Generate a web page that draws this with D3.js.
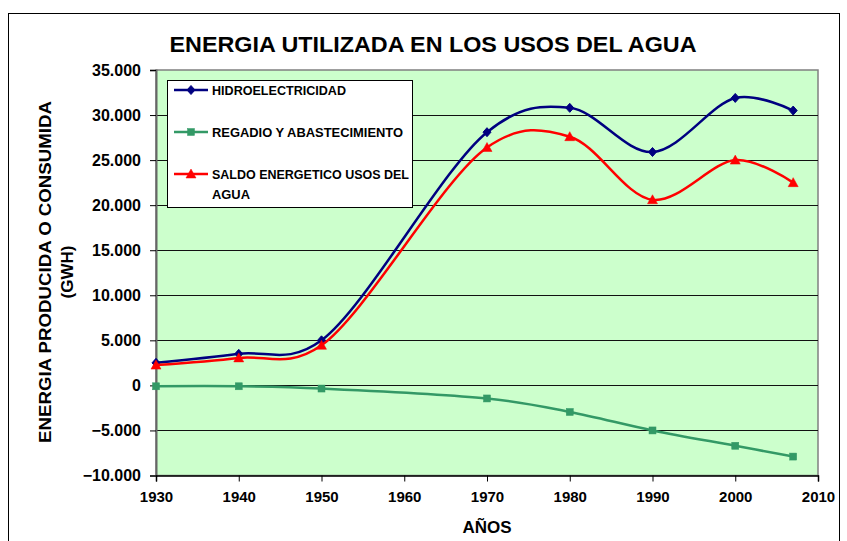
<!DOCTYPE html>
<html>
<head>
<meta charset="utf-8">
<script src="https://cdn.jsdelivr.net/npm/d3@7"></script>
<style>
  body { margin: 0; background: #fff; }
  text { font-family: "Liberation Sans", Arial, sans-serif; font-weight: bold; }
</style>
</head>
<body>
<div id="chart"></div>
<script>
// Values (GWh)
var years = [1930, 1940, 1950, 1970, 1980, 1990, 2000, 2007];
var hidro = [2500, 3500, 5000, 28100, 30800, 25900, 31900, 30500];
var regadio = [-100, -100, -350, -1450, -2950, -5000, -6700, -7900];
var saldo = [2250, 3050, 4450, 26400, 27600, 20600, 25000, 22500];
var yTicks = [35000, 30000, 25000, 20000, 15000, 10000, 5000, 0, -5000, -10000];
var xTicks = [1930, 1940, 1950, 1960, 1970, 1980, 1990, 2000, 2010];

var series = [
  { name: ["HIDROELECTRICIDAD"], len: [134], values: hidro, color: "#000080", marker: "diamond" },
  { name: ["REGADIO Y ABASTECIMIENTO"], len: [191], values: regadio, color: "#339966", marker: "square" },
  { name: ["SALDO ENERGETICO USOS DEL", "AGUA"], len: [197, 38], values: saldo, color: "#ff0000", marker: "triangle" }
];

var width = 847, height = 541;
var svg = d3.select("#chart").append("svg")
  .attr("width", width)
  .attr("height", height);

// outer chart frame
svg.append("rect")
  .attr("x", 8.5).attr("y", 13.5)
  .attr("width", 831).attr("height", 540)
  .attr("fill", "#fff").attr("stroke", "#000");

var x = d3.scaleLinear().domain([1930, 2010]).range([156, 818]);
var y = d3.scaleLinear().domain([-10000, 35000]).range([475.5, 70]);

// plot area
svg.append("rect")
  .attr("x", x(1930)).attr("y", y(35000))
  .attr("width", x(2010) - x(1930)).attr("height", y(-10000) - y(35000))
  .attr("fill", "#ccffcc").attr("stroke", "#808080").attr("stroke-width", 1.5);

// horizontal gridlines
svg.append("g").selectAll("line")
  .data(yTicks.filter(function (d) { return d > -10000 && d < 35000; }))
  .enter().append("line")
  .attr("x1", x(1930)).attr("x2", x(2010))
  .attr("y1", function (d) { return Math.round(y(d)) + 0.5; })
  .attr("y2", function (d) { return Math.round(y(d)) + 0.5; })
  .attr("stroke", "#111").attr("stroke-width", 1);

// y axis
var fmt = function (d) { return d === 0 ? "0" : d3.format(",")(d).replace(/,/g, "."); };
var yAxis = svg.append("g")
  .attr("transform", "translate(" + x(1930) + ",0)")
  .call(d3.axisLeft(y).tickValues(yTicks).tickSize(6).tickPadding(9).tickFormat(fmt));
yAxis.select(".domain").attr("stroke", "#666").attr("stroke-width", 2);
yAxis.selectAll(".tick line").attr("stroke", "#000");
yAxis.selectAll("text").attr("font-size", 16).attr("fill", "#000")
  .style("font-family", "'Liberation Sans', Arial, sans-serif").style("font-weight", "bold");

// x axis
var xAxis = svg.append("g")
  .attr("transform", "translate(0," + y(-10000) + ")")
  .call(d3.axisBottom(x).tickValues(xTicks).tickSize(6).tickPadding(10).tickFormat(d3.format("d")));
xAxis.select(".domain").attr("stroke", "#000").attr("stroke-width", 1.5);
xAxis.selectAll(".tick line").attr("stroke", "#000");
xAxis.selectAll("text").attr("font-size", 15).attr("fill", "#000")
  .style("font-family", "'Liberation Sans', Arial, sans-serif").style("font-weight", "bold");

// lines (smoothed like the spreadsheet)
var line = d3.line()
  .x(function (d) { return x(d[0]); })
  .y(function (d) { return y(d[1]); })
  .curve(d3.curveCatmullRom.alpha(0.25));

function drawMarker(g, type, color, cx, cy) {
  if (type === "diamond") {
    g.append("path")
      .attr("d", "M" + cx + "," + (cy - 4.5) + "L" + (cx + 4) + "," + cy + "L" + cx + "," + (cy + 4.5) + "L" + (cx - 4) + "," + cy + "Z")
      .attr("fill", color).attr("stroke", color);
  } else if (type === "square") {
    g.append("rect")
      .attr("x", cx - 3.5).attr("y", cy - 3.5).attr("width", 7).attr("height", 7)
      .attr("fill", color).attr("stroke", color).attr("stroke-width", 0.5);
  } else {
    g.append("path")
      .attr("d", "M" + cx + "," + (cy - 5) + "L" + (cx + 5) + "," + (cy + 4) + "L" + (cx - 5) + "," + (cy + 4) + "Z")
      .attr("fill", color).attr("stroke", color).attr("stroke-width", 0.5);
  }
}

series.forEach(function (s) {
  var pts = years.map(function (yr, i) { return [yr, s.values[i]]; });
  svg.append("path")
    .attr("d", line(pts))
    .attr("fill", "none")
    .attr("stroke", s.color)
    .attr("stroke-width", 2.5);
  var mg = svg.append("g");
  pts.forEach(function (p) { drawMarker(mg, s.marker, s.color, x(p[0]), y(p[1])); });
});

// legend
var legend = svg.append("g");
legend.append("rect")
  .attr("x", 167.5).attr("y", 80.5).attr("width", 245).attr("height", 127)
  .attr("fill", "#fff").attr("stroke", "#000");
var legendY = [90, 132, 174];
series.forEach(function (s, i) {
  var ly = legendY[i];
  legend.append("line")
    .attr("x1", 174).attr("x2", 208).attr("y1", ly).attr("y2", ly)
    .attr("stroke", s.color).attr("stroke-width", 2.5);
  drawMarker(legend, s.marker, s.color, 191, ly);
  s.name.forEach(function (t, j) {
    legend.append("text")
      .attr("x", 212).attr("y", ly + 5 + j * 20)
      .attr("font-size", 12.5)
      .attr("textLength", s.len[j])
      .attr("lengthAdjust", "spacingAndGlyphs")
      .attr("fill", "#000")
      .text(t);
  });
});

// titles
svg.append("text")
  .attr("x", 433).attr("y", 52)
  .attr("text-anchor", "middle")
  .attr("font-size", 22)
  .attr("textLength", 527)
  .attr("lengthAdjust", "spacingAndGlyphs")
  .attr("fill", "#000")
  .text("ENERGIA UTILIZADA EN LOS USOS DEL AGUA");

svg.append("text")
  .attr("x", 487).attr("y", 533)
  .attr("text-anchor", "middle")
  .attr("font-size", 17)
  .attr("fill", "#000")
  .text("AÑOS");

var yt = svg.append("text")
  .attr("transform", "translate(51,272) rotate(-90)")
  .attr("text-anchor", "middle")
  .attr("font-size", 17)
  .attr("fill", "#000");
yt.append("tspan").attr("x", 0).attr("y", 0)
  .attr("textLength", 342).attr("lengthAdjust", "spacingAndGlyphs")
  .text("ENERGIA PRODUCIDA O CONSUMIDA");
yt.append("tspan").attr("x", 0).attr("y", 22).text("(GWH)");
</script>
</body>
</html>
